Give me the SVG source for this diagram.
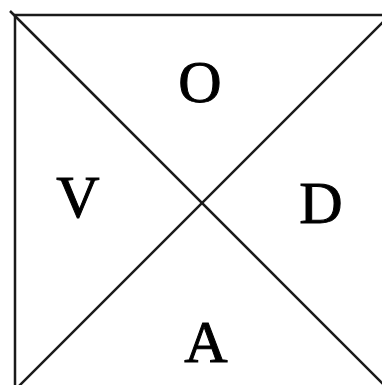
<svg xmlns="http://www.w3.org/2000/svg" width="382" height="385" viewBox="0 0 382 385">
<style>
.ln{stroke:#1a1a1a;stroke-width:2.5;fill:none}
.lb{font-family:"Liberation Serif","Times New Roman",serif;font-size:60px;fill:#000;stroke:#000;stroke-width:1;text-anchor:middle}
</style>
<rect width="382" height="385" fill="#fff"/>
<g id="connectors">
<line class="ln" x1="14" y1="15" x2="390" y2="15"/>
<line class="ln" x1="15" y1="15" x2="15" y2="390"/>
<line class="ln" x1="10" y1="11" x2="390" y2="391"/>
<line class="ln" x1="15" y1="390" x2="390" y2="15"/>
</g>
<g id="O"><text class="lb" x="200" y="102">O</text></g>
<g id="V"><text class="lb" x="78" y="217">V</text></g>
<g id="D"><text class="lb" x="321" y="223">D</text></g>
<g id="A"><text class="lb" x="206" y="362">A</text></g>
</svg>
